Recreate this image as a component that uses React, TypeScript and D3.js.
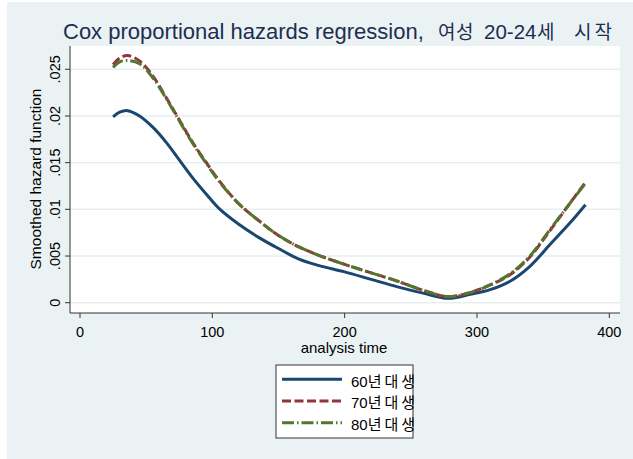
import * as d3 from "d3";

// ── Data ──────────────────────────────────────────────────
const times = [25, 30, 36, 45, 55, 65, 75, 85, 95, 105, 120, 135, 150, 165, 180, 200, 220, 240, 260, 278, 295, 310, 325, 340, 355, 370, 382];
const hazard60 = [0.0199, 0.0204, 0.02057, 0.0200, 0.0188, 0.0172, 0.0153, 0.0134, 0.0117, 0.0101, 0.0084, 0.0070, 0.0058, 0.0047, 0.0040, 0.0033, 0.0025, 0.0017, 0.0010, 0.00047, 0.0009, 0.0014, 0.0023, 0.0039, 0.0062, 0.0085, 0.0105];
const hazard70 = [0.0255, 0.0262, 0.02647, 0.0259, 0.0243, 0.0220, 0.0196, 0.0172, 0.0151, 0.0131, 0.0106, 0.0088, 0.0072, 0.0060, 0.0051, 0.0041, 0.0032, 0.0023, 0.0013, 0.00064, 0.0011, 0.0019, 0.0030, 0.0049, 0.0077, 0.0106, 0.0129];
const hazard80 = [0.0252, 0.0258, 0.02593, 0.0256, 0.0241, 0.0219, 0.0195, 0.0171, 0.0150, 0.0130, 0.0106, 0.0088, 0.0072, 0.0060, 0.0051, 0.0041, 0.0032, 0.0023, 0.0013, 0.00066, 0.0011, 0.0019, 0.0031, 0.0050, 0.0078, 0.0106, 0.0128];
const seriesYears = ["60", "70", "80"];
const seriesSuffix = "년대생";
const xTicks = [0, 100, 200, 300, 400];
const yTicks = [0, 0.005, 0.01, 0.015, 0.02, 0.025];
const yTickLabels = ["0", ".005", ".01", ".015", ".02", ".025"];

// ── Styles ────────────────────────────────────────────────
const BG = "#eaf2f3";
const GRID = "#e6eff1";
const COLORS = ["#1a476f", "#90353b", "#55752f"];
const DASHES = [null, "9 3.5", "12 3 1.5 3"];
const FONT = "'Liberation Sans', Arial, 'Noto Sans CJK KR', sans-serif";

// ── Layout ────────────────────────────────────────────────
const W = 633;
const H = 459;
const PL = 70, PR = 620, PT = 46, PB = 313;

const x = d3.scaleLinear().domain([0, 400]).range([80, 609.3]);
const y = d3.scaleLinear().domain([0, 0.025]).range([302.7, 69.3]);

const line = d3.line<[number, number]>()
  .x(d => x(d[0]))
  .y(d => y(d[1]))
  .curve(d3.curveCatmullRom.alpha(0.5));

const allSeries = [hazard60, hazard70, hazard80].map(vals =>
  times.map((t, i) => [t, vals[i]] as [number, number])
);

export default function App() {
  return (
    <div style={{ position: "absolute", left: 0, top: 0 }}>
      <svg width={W} height={H} style={{ display: "block" }} fontFamily={FONT}>
        <rect x={0} y={0} width={W} height={H} fill="#ffffff" />
        <rect x={7} y={2} width={W - 7} height={H - 2} fill={BG} />

        {/* title: Korean runs placed where the reference puts them */}
        <text x={63} y={39} fontSize={22} fill="#1e2d52">
          Cox proportional hazards regression,
          <tspan x={438} fontSize={19} letterSpacing={0.5}>여성</tspan>
          <tspan x={484} fontSize={20.5}>20-24</tspan>
          <tspan x={537} fontSize={19}>세</tspan>
          <tspan x={574} fontSize={19} letterSpacing={3}>시작</tspan>
        </text>

        {/* plot region */}
        <rect x={PL} y={PT} width={PR - PL} height={PB - PT} fill="#ffffff" />

        {/* grid */}
        {yTicks.map(v => (
          <line key={v} x1={PL} x2={PR} y1={y(v)} y2={y(v)} stroke={GRID} strokeWidth={1.5} />
        ))}

        {/* series */}
        {allSeries.map((s, i) => (
          <path key={i} d={line(s) ?? ""} fill="none" stroke={COLORS[i]}
            strokeWidth={3} strokeDasharray={DASHES[i] ?? undefined} />
        ))}

        {/* axes */}
        <line x1={PL} x2={PL} y1={PT} y2={PB} stroke="#333" strokeWidth={1} />
        <line x1={PL} x2={PR} y1={PB} y2={PB} stroke="#333" strokeWidth={1} />

        {yTicks.map((v, i) => (
          <g key={v}>
            <line x1={PL - 5} x2={PL} y1={y(v)} y2={y(v)} stroke="#333" />
            <text transform={`translate(60, ${y(v)}) rotate(-90)`} textAnchor="middle"
              fontSize={14.5} fill="#000">
              {yTickLabels[i]}
            </text>
          </g>
        ))}
        {xTicks.map(v => (
          <g key={v}>
            <line x1={x(v)} x2={x(v)} y1={PB} y2={PB + 5} stroke="#333" />
            <text x={x(v)} y={337} textAnchor="middle" fontSize={14.5} fill="#000">{v}</text>
          </g>
        ))}

        <text x={344} y={353} textAnchor="middle" fontSize={15} fill="#000">analysis time</text>
        <text transform={`translate(40.5, 179) rotate(-90)`} textAnchor="middle"
          fontSize={15.5} fill="#000">
          Smoothed hazard function
        </text>

        {/* legend */}
        <rect x={276} y={365} width={137} height={73} fill="#ffffff" stroke="#333" strokeWidth={1} />
        {seriesYears.map((yr, i) => {
          const ly = 379.3 + i * 21.7;
          return (
            <g key={yr}>
              <line x1={282} x2={342} y1={ly} y2={ly} stroke={COLORS[i]} strokeWidth={3}
                strokeDasharray={DASHES[i] ?? undefined} />
              <text x={351} y={ly + 7.3} fontSize={15} fill="#000">
                {yr}<tspan letterSpacing={3}>{seriesSuffix}</tspan>
              </text>
            </g>
          );
        })}
      </svg>
    </div>
  );
}
